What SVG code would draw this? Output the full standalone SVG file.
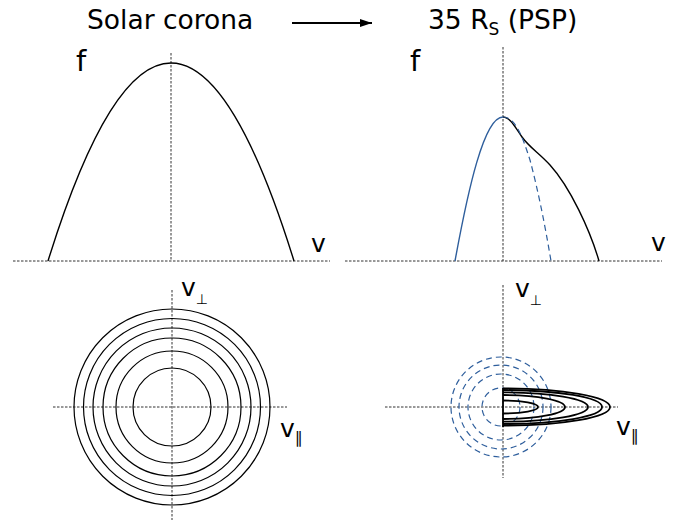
<svg xmlns="http://www.w3.org/2000/svg" width="678" height="523" viewBox="0 0 678 523">
<style>
text{font-family:"DejaVu Sans","Liberation Sans",sans-serif;fill:#000}
.title{font-size:26.5px}
.lab{font-size:25px}
.axis{fill:none;stroke:#333;stroke-width:1;stroke-dasharray:2.5,1.5}
.curve{fill:none;stroke:#000;stroke-width:1.4}
.blue{fill:none;stroke:#2e5e9c;stroke-width:1.4}
.bdash{fill:none;stroke:#2e5e9c;stroke-width:1.2;stroke-dasharray:6,4}
.ring{fill:none;stroke:#000;stroke-width:1.2}
.bul{fill:none;stroke:#000;stroke-width:1.8}
</style>
<defs>
<marker id="ah" markerWidth="12" markerHeight="8" refX="12" refY="4" orient="auto" markerUnits="userSpaceOnUse">
<path d="M0,0 L12,4 L0,8 Z" fill="#000"/>
</marker>
</defs>
<rect width="678" height="523" fill="#fff"/>

<g id="title-left"><text class="title" x="87" y="29">Solar corona</text></g>
<g id="title-right"><text class="title" x="428" y="29">35 R<tspan font-size="17" dy="6">S</tspan><tspan dy="-6"> (PSP)</tspan></text></g>

<g id="connectors">
<line x1="292" y1="23" x2="372" y2="23" stroke="#000" stroke-width="1.8" marker-end="url(#ah)"/>
</g>

<g id="panel-top-left">
<line class="axis" x1="13" y1="261" x2="330" y2="261"/>
<line class="axis" x1="171" y1="53" x2="171" y2="261"/>
<path class="curve" d="M48,261 Q171,-135 294,261"/>
<text x="76" y="71" font-size="29">f</text>
<text class="lab" x="311" y="252" font-size="24">v</text>
</g>

<g id="panel-top-right">
<line class="axis" x1="345" y1="261" x2="662" y2="261"/>
<line class="axis" x1="503" y1="47" x2="503" y2="261"/>
<path class="curve" d="M503,117 C510,117 515,127 522,137 C530,148 538,152 550,165 C570,187 590,230 599,261"/>
<path class="bdash" d="M503,117 C515,117 522,135 530,160 C538,190 545,225 551,261"/>
<path class="blue" d="M455,261 C468,190 484,117 503,117"/>
<text x="410" y="71" font-size="29">f</text>
<text class="lab" x="651" y="251" font-size="24">v</text>
</g>

<g id="panel-bottom-left">
<line class="axis" x1="53" y1="407" x2="287" y2="407"/>
<line class="axis" x1="172" y1="290" x2="172" y2="520"/>
<circle class="ring" cx="172" cy="407" r="39"/>
<circle class="ring" cx="172" cy="407" r="56"/>
<circle class="ring" cx="172" cy="407" r="69"/>
<circle class="ring" cx="172" cy="407" r="79"/>
<circle class="ring" cx="172" cy="407" r="88.5"/>
<circle class="ring" cx="172" cy="407" r="98"/>
<text class="lab" x="181" y="296">v<tspan font-size="14" dy="8">⊥</tspan></text>
<text class="lab" x="280" y="437">v<tspan font-size="16" dy="6">∥</tspan></text>
</g>

<g id="panel-bottom-right">
<line class="axis" x1="385" y1="407" x2="618" y2="407"/>
<line class="axis" x1="503" y1="285" x2="503" y2="478"/>
<circle class="bdash" cx="501" cy="407" r="19"/>
<circle class="bdash" cx="501" cy="407" r="33"/>
<circle class="bdash" cx="501" cy="407" r="42"/>
<circle class="bdash" cx="501" cy="407" r="50"/>
<line x1="503" y1="388" x2="503" y2="427" stroke="#000" stroke-width="1.8"/>
<path class="bul" d="M503,400.5 A35,6.5 0 0 1 503,413.5"/>
<path class="bul" d="M503,395 A62,12 0 0 1 503,419"/>
<path class="bul" d="M503,392.3 A85,14.7 0 0 1 503,421.7"/>
<path class="bul" d="M503,390 A99,17 0 0 1 503,424"/>
<path class="bul" d="M503,388.3 A107,18.7 0 0 1 503,425.7"/>
<text class="lab" x="515" y="297">v<tspan font-size="14" dy="8">⊥</tspan></text>
<text class="lab" x="616" y="435">v<tspan font-size="16" dy="6">∥</tspan></text>
</g>
</svg>
